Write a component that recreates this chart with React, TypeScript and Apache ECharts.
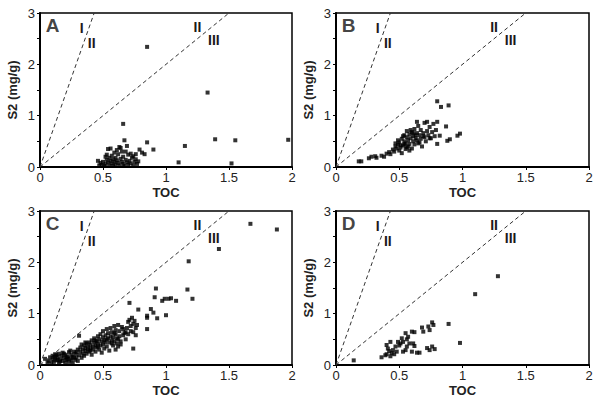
import React, { useEffect, useRef } from "react";
import * as echarts from "echarts";

const panelLetters = ["A", "B", "C", "D"];
const xTicks = [0, 0.5, 1, 1.5, 2];
const yTickLabels = [0, 1, 2, 3];

const lineI_II = [[0, 0], [0.43, 3]];
const lineII_III = [[0, 0], [1.5, 3]];

const zoneLabels = [
  { name: "I", value: [0.33, 2.7] },
  { name: "II", value: [0.41, 2.42] },
  { name: "II", value: [1.25, 2.72] },
  { name: "III", value: [1.38, 2.48] },
];
const letterPos = [0.1, 2.75];

const dataA = [
  [0.85, 2.34], [1.33, 1.45], [0.66, 0.84], [0.67, 0.52], [0.85, 0.48], [0.90, 0.34], [1.15, 0.41],
  [1.39, 0.54], [1.55, 0.52], [1.97, 0.53], [1.10, 0.09], [1.52, 0.07],
  [0.54, 0.35], [0.63, 0.39], [0.69, 0.41], [0.79, 0.34], [0.81, 0.28], [0.83, 0.25], [0.53, 0.24],
  [0.65, 0.30], [0.72, 0.26], [0.74, 0.21],
  [0.46, 0.12], [0.48, 0.08], [0.49, 0.04], [0.50, 0.10], [0.51, 0.02], [0.52, 0.06], [0.53, 0.14],
  [0.54, 0.09], [0.55, 0.03], [0.55, 0.18], [0.56, 0.12], [0.57, 0.07], [0.57, 0.22], [0.58, 0.15],
  [0.58, 0.02], [0.59, 0.10], [0.60, 0.05], [0.60, 0.18], [0.61, 0.13], [0.62, 0.08], [0.62, 0.25],
  [0.63, 0.03], [0.64, 0.16], [0.64, 0.37], [0.65, 0.10], [0.66, 0.06], [0.66, 0.20], [0.67, 0.02],
  [0.68, 0.14], [0.69, 0.09], [0.70, 0.04], [0.70, 0.24], [0.71, 0.12], [0.72, 0.07], [0.73, 0.18],
  [0.74, 0.03], [0.75, 0.10], [0.76, 0.15], [0.77, 0.06], [0.78, 0.11], [0.59, 0.28], [0.52, 0.20],
  [0.47, 0.03], [0.61, 0.33], [0.56, 0.36], [0.68, 0.30], [0.76, 0.25],
];

const dataB = [
  [0.18, 0.11], [0.20, 0.11], [0.26, 0.17], [0.28, 0.20], [0.32, 0.18], [0.31, 0.21], [0.36, 0.22],
  [0.38, 0.20], [0.40, 0.26], [0.43, 0.25], [0.42, 0.29], [0.45, 0.34], [0.47, 0.40], [0.46, 0.30],
  [0.48, 0.36], [0.49, 0.44], [0.50, 0.32], [0.50, 0.48], [0.51, 0.38], [0.52, 0.55], [0.52, 0.27],
  [0.53, 0.42], [0.54, 0.50], [0.54, 0.62], [0.55, 0.35], [0.55, 0.46], [0.56, 0.58], [0.56, 0.70],
  [0.57, 0.40], [0.57, 0.52], [0.58, 0.64], [0.58, 0.45], [0.59, 0.56], [0.60, 0.68], [0.60, 0.36],
  [0.61, 0.50], [0.61, 0.60], [0.62, 0.74], [0.62, 0.44], [0.63, 0.56], [0.64, 0.66], [0.64, 0.52],
  [0.65, 0.80], [0.65, 0.46], [0.66, 0.62], [0.67, 0.72], [0.67, 0.55], [0.68, 0.40], [0.69, 0.66],
  [0.70, 0.58], [0.70, 0.86], [0.71, 0.50], [0.72, 0.70], [0.73, 0.62], [0.74, 0.78], [0.75, 0.56],
  [0.76, 0.68], [0.77, 0.84], [0.78, 0.60], [0.79, 0.72], [0.80, 0.88], [0.80, 0.45], [0.82, 0.61],
  [0.87, 0.79], [0.88, 0.51], [0.90, 0.54], [0.96, 0.61], [0.98, 0.65], [0.80, 1.28], [0.83, 1.17],
  [0.89, 1.20], [0.64, 0.88], [0.59, 0.72], [0.53, 0.60], [0.49, 0.52], [0.47, 0.46], [0.51, 0.42],
  [0.58, 0.32], [0.66, 0.48], [0.74, 0.56], [0.72, 0.88], [0.54, 0.44], [0.56, 0.38], [0.63, 0.62],
  [0.69, 0.60], [0.61, 0.66],
];

const dataC = [
  [0.04, 0.12], [0.07, 0.08], [0.08, 0.15], [0.09, 0.03], [0.10, 0.10], [0.10, 0.18], [0.11, 0.06],
  [0.12, 0.13], [0.12, 0.21], [0.13, 0.09], [0.14, 0.16], [0.15, 0.04], [0.15, 0.22], [0.16, 0.11],
  [0.17, 0.18], [0.18, 0.08], [0.18, 0.24], [0.19, 0.14], [0.20, 0.20], [0.21, 0.10], [0.22, 0.17],
  [0.23, 0.25], [0.23, 0.06], [0.24, 0.13], [0.25, 0.20], [0.26, 0.03], [0.26, 0.16], [0.27, 0.26],
  [0.28, 0.10], [0.28, 0.22], [0.29, 0.15], [0.30, 0.30], [0.30, 0.08], [0.31, 0.19], [0.31, 0.57],
  [0.20, 0.05], [0.24, 0.28], [0.33, 0.40], [0.27, 0.14], [0.22, 0.12], [0.14, 0.10], [0.06, 0.05],
  [0.11, 0.16], [0.13, 0.19], [0.16, 0.07], [0.19, 0.22], [0.21, 0.15], [0.25, 0.09], [0.29, 0.25],
  [0.32, 0.26], [0.32, 0.34], [0.33, 0.14], [0.34, 0.22], [0.34, 0.30], [0.35, 0.38], [0.35, 0.18],
  [0.36, 0.27], [0.36, 0.33], [0.37, 0.42], [0.37, 0.22], [0.38, 0.30], [0.38, 0.36], [0.39, 0.26],
  [0.39, 0.44], [0.40, 0.33], [0.40, 0.40], [0.41, 0.20], [0.41, 0.48], [0.42, 0.36], [0.42, 0.30],
  [0.43, 0.44], [0.43, 0.52], [0.44, 0.26], [0.44, 0.38], [0.45, 0.46], [0.45, 0.34], [0.46, 0.56],
  [0.46, 0.42], [0.47, 0.30], [0.47, 0.50], [0.48, 0.38], [0.48, 0.60], [0.49, 0.46], [0.49, 0.24],
  [0.50, 0.54], [0.50, 0.40], [0.50, 0.66], [0.36, 0.44], [0.40, 0.28], [0.44, 0.48], [0.46, 0.36],
  [0.51, 0.32], [0.51, 0.48], [0.52, 0.58], [0.52, 0.44], [0.53, 0.70], [0.53, 0.36], [0.54, 0.52],
  [0.54, 0.62], [0.55, 0.44], [0.55, 0.28], [0.56, 0.56], [0.56, 0.72], [0.57, 0.48], [0.57, 0.64],
  [0.58, 0.38], [0.58, 0.54], [0.59, 0.76], [0.59, 0.46], [0.60, 0.60], [0.60, 0.68], [0.61, 0.42],
  [0.61, 0.52], [0.62, 0.78], [0.62, 0.36], [0.63, 0.56], [0.63, 0.66], [0.64, 0.46], [0.65, 0.74],
  [0.66, 0.58], [0.67, 0.62], [0.68, 0.50], [0.69, 0.72], [0.70, 0.84], [0.70, 0.60], [0.71, 0.88],
  [0.72, 0.76], [0.72, 0.66], [0.73, 0.92], [0.74, 0.80], [0.74, 0.64], [0.75, 0.86], [0.76, 0.72],
  [0.76, 0.58], [0.77, 0.78], [0.74, 0.32], [0.60, 0.30], [0.64, 0.40], [0.53, 0.50], [0.57, 0.42],
  [0.59, 0.62], [0.62, 0.50], [0.66, 0.70], [0.68, 0.64],
  [0.71, 1.21], [0.78, 1.08], [0.85, 0.70], [0.85, 0.92], [0.85, 0.96], [0.88, 1.09], [0.90, 1.02],
  [0.93, 0.91], [0.91, 1.32], [0.92, 1.49], [0.97, 1.25], [0.99, 1.29], [1.02, 1.29], [1.04, 1.30],
  [1.08, 1.25], [1.00, 0.97], [1.17, 1.47], [1.21, 1.29], [1.18, 2.02], [1.42, 2.26], [1.67, 2.75],
  [1.88, 2.64],
];

const dataD = [
  [0.14, 0.09], [1.28, 1.73], [1.10, 1.38], [0.89, 0.80], [0.98, 0.43],
  [0.36, 0.15], [0.39, 0.19], [0.40, 0.39], [0.41, 0.32], [0.43, 0.45], [0.44, 0.23], [0.45, 0.29],
  [0.47, 0.36], [0.48, 0.26], [0.49, 0.45], [0.51, 0.42], [0.52, 0.52], [0.53, 0.45], [0.55, 0.62],
  [0.55, 0.29], [0.56, 0.50], [0.58, 0.42], [0.60, 0.65], [0.61, 0.42], [0.62, 0.64], [0.64, 0.24],
  [0.66, 0.24], [0.68, 0.73], [0.69, 0.65], [0.72, 0.33], [0.73, 0.75], [0.74, 0.68], [0.76, 0.83],
  [0.77, 0.78], [0.76, 0.36], [0.74, 0.29], [0.78, 0.31], [0.62, 0.37], [0.60, 0.26], [0.56, 0.36],
  [0.40, 0.21], [0.43, 0.17], [0.46, 0.21], [0.53, 0.26], [0.50, 0.38], [0.57, 0.55], [0.42, 0.27],
];

const panelData = [dataA, dataB, dataC, dataD];
const gridBoxes = [
  { left: 40, top: 13, width: 252, height: 154 },
  { left: 336, top: 13, width: 253, height: 154 },
  { left: 40, top: 211, width: 252, height: 154 },
  { left: 336, top: 211, width: 253, height: 154 },
];

const FONT = "Liberation Sans, Arial, sans-serif";

export default function App() {
  const ref = useRef<HTMLDivElement>(null);
  useEffect(() => {
    if (!ref.current) return;
    const chart = echarts.init(ref.current, undefined, { renderer: "svg" });
    const grid: any[] = [];
    const xAxis: any[] = [];
    const yAxis: any[] = [];
    const series: any[] = [];
    panelData.forEach((data, i) => {
      grid.push({
        ...gridBoxes[i],
        show: true,
        borderColor: "#000",
        borderWidth: 1.5,
        backgroundColor: "transparent",
        containLabel: false,
      });
      xAxis.push({
        type: "value",
        gridIndex: i,
        min: xTicks[0],
        max: xTicks[xTicks.length - 1],
        interval: 0.5,
        name: "TOC",
        nameLocation: "middle",
        nameGap: 19,
        nameTextStyle: { fontFamily: FONT, fontWeight: "bold", fontSize: 13, color: "#222" },
        axisLine: { show: true, onZero: false, lineStyle: { color: "#000", width: 2 } },
        axisTick: { show: true, inside: false, length: 3, lineStyle: { color: "#000", width: 1 } },
        axisLabel: {
          fontFamily: FONT,
          fontSize: 13,
          color: "#222",
          margin: 4,
          formatter: (v: number) => (xTicks.includes(v) ? String(v) : ""),
        },
        splitLine: { show: false },
      });
      yAxis.push({
        type: "value",
        gridIndex: i,
        min: 0,
        max: 3,
        interval: 0.5,
        name: "S2 (mg/g)",
        nameLocation: "middle",
        nameGap: 21,
        nameTextStyle: { fontFamily: FONT, fontWeight: "bold", fontSize: 13, color: "#222" },
        axisLine: { show: true, onZero: false, lineStyle: { color: "#000", width: 2 } },
        axisTick: { show: true, inside: false, length: 3, lineStyle: { color: "#000", width: 1 } },
        axisLabel: {
          fontFamily: FONT,
          fontSize: 13,
          color: "#222",
          margin: 5,
          formatter: (v: number) => (yTickLabels.includes(v) ? String(v) : ""),
        },
        splitLine: { show: false },
      });
      [lineI_II, lineII_III].forEach((ln) => {
        series.push({
          type: "line",
          xAxisIndex: i,
          yAxisIndex: i,
          data: ln,
          symbol: "none",
          silent: true,
          lineStyle: { color: "#333", width: 1, type: [4, 3] },
        });
      });
      series.push({
        type: "scatter",
        xAxisIndex: i,
        yAxisIndex: i,
        data,
        symbol: "rect",
        symbolSize: 4,
        itemStyle: { color: "#000" },
      });
      series.push({
        type: "scatter",
        xAxisIndex: i,
        yAxisIndex: i,
        silent: true,
        symbolSize: 1,
        itemStyle: { color: "rgba(0,0,0,0)" },
        data: zoneLabels.map((z) => ({ name: z.name, value: z.value })),
        label: {
          show: true,
          position: "inside",
          formatter: (p: any) => p.name,
          fontFamily: FONT,
          fontWeight: "bold",
          fontSize: 14,
          color: "#1a1a1a",
          textBorderWidth: 0,
          opacity: 1,
        },
      });
      series.push({
        type: "scatter",
        xAxisIndex: i,
        yAxisIndex: i,
        silent: true,
        symbolSize: 1,
        itemStyle: { color: "rgba(0,0,0,0)" },
        data: [{ name: panelLetters[i], value: letterPos }],
        label: {
          show: true,
          position: "inside",
          formatter: (p: any) => p.name,
          fontFamily: FONT,
          fontWeight: "bold",
          fontSize: 19,
          color: "#111",
          textBorderWidth: 0,
        },
      });
    });
    chart.setOption({
      animation: false,
      backgroundColor: "#fff",
      grid,
      xAxis,
      yAxis,
      series,
    });
    return () => chart.dispose();
  }, []);
  return (
    <div
      ref={ref}
      style={{ position: "fixed", left: 0, top: 0, width: 600, height: 399 }}
    />
  );
}
